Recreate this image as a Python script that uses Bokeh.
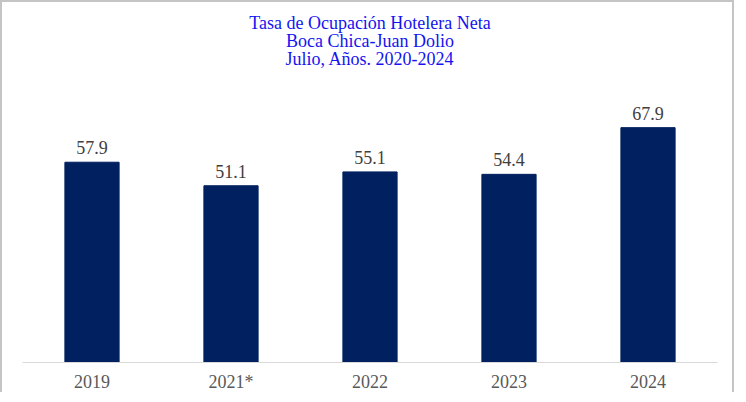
from bokeh.plotting import figure
from bokeh.models import ColumnDataSource, LabelSet, Range1d, Title
from bokeh.embed import file_html
from bokeh.resources import INLINE

categories = ["2019", "2021*", "2022", "2023", "2024"]
values = [57.9, 51.1, 55.1, 54.4, 67.9]
labels = ["57.9", "51.1", "55.1", "54.4", "67.9"]
title_lines = ["Tasa de Ocupación Hotelera Neta", "Boca Chica-Juan Dolio", "Julio, Años. 2020-2024"]

source = ColumnDataSource(data=dict(cat=categories, val=values, lab=labels))

p = figure(
    x_range=categories,
    y_range=Range1d(0, 85.0),
    width=734,
    height=392,
    title=None,
    output_backend="svg",
    toolbar_location=None,
    min_border_left=20,
    min_border_right=19,
    min_border_bottom=30,
    min_border_top=66,
)
p.styles = {"border-top": "2px solid #c4c4c4", "border-left": "2px solid #c4c4c4",
            "border-right": "2px solid #c4c4c4"}

title_standoffs = [-1.5, -7, 0]
for line, so in zip(reversed(title_lines), title_standoffs):
    t = Title(text=line, align="center", text_font="Liberation Serif",
              text_font_style="normal", text_font_size="18px", text_color="#1414F0",
              standoff=so)
    p.add_layout(t, "above")

p.vbar(x="cat", top="val", width=0.39, source=source, color="#002060")

labs = LabelSet(x="cat", y="val", text="lab", source=source, text_align="center",
                text_baseline="bottom", y_offset=8, text_font_size="18px",
                text_font="Liberation Serif", text_color="#404040")
p.add_layout(labs)

p.yaxis.visible = False
p.xgrid.visible = False
p.ygrid.visible = False
p.outline_line_color = None
p.xaxis.axis_line_color = "#D9D9D9"
p.xaxis.axis_line_width = 1
p.xaxis.major_tick_line_color = None
p.xaxis.minor_tick_line_color = None
p.xaxis.major_tick_out = 0
p.xaxis.major_label_standoff = 9
p.xaxis.major_label_text_font = "Liberation Serif"
p.xaxis.major_label_text_font_size = "18px"
p.xaxis.major_label_text_color = "#595959"
p.x_range.range_padding = 0

open("out.html", "w").write(file_html(p, INLINE))
